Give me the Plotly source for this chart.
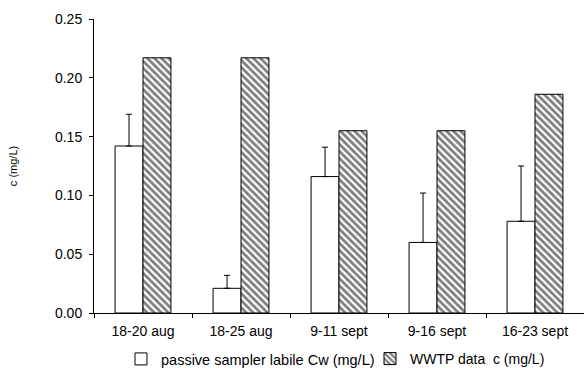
import plotly.graph_objects as go

categories = ["18-20 aug", "18-25 aug", "9-11 sept", "9-16 sept", "16-23 sept"]
passive = [0.142, 0.021, 0.116, 0.060, 0.078]
passive_err = [0.027, 0.011, 0.025, 0.042, 0.047]
wwtp = [0.217, 0.217, 0.155, 0.155, 0.186]
yticks = [0.00, 0.05, 0.10, 0.15, 0.20, 0.25]

fig = go.Figure()
fig.add_trace(go.Bar(
    x=categories, y=passive, name="passive sampler labile Cw (mg/L)",
    marker=dict(color="white", line=dict(color="black", width=1)),
    error_y=dict(type="data", array=passive_err, arrayminus=[0]*len(passive_err),
                 symmetric=False, color="black", thickness=1, width=3),
    legend="legend",
))
fig.add_trace(go.Bar(
    x=categories, y=wwtp, name="WWTP data  c (mg/L)",
    marker=dict(color="white", line=dict(color="black", width=1),
                pattern=dict(shape="\\", fgcolor="black", bgcolor="white",
                             size=5, solidity=0.55)),
    legend="legend2",
))

leg_common = dict(orientation="h", xref="container", yref="container",
                  xanchor="left", yanchor="middle", y=(368-359)/368,
                  itemwidth=30, bgcolor="rgba(0,0,0,0)")

fig.update_layout(
    width=584, height=368,
    margin=dict(l=94, r=0, t=19, b=55, autoexpand=False),
    paper_bgcolor="white", plot_bgcolor="white",
    barmode="group", bargap=0.43, bargroupgap=0,
    font=dict(family="Liberation Sans, Arial, sans-serif", size=14, color="black"),
    showlegend=True,
    legend=dict(leg_common, x=121/584, font=dict(size=14.5, color="black")),
    legend2=dict(leg_common, x=370/584, font=dict(size=14, color="black")),
)
fig.update_xaxes(
    showline=True, linecolor="black", linewidth=1,
    ticks="outside", tickson="boundaries", ticklen=4, tickcolor="black",
    showgrid=False, range=[-0.5, 4.5], ticklabelstandoff=5,
    tickfont=dict(size=14, color="black"),
)
fig.update_yaxes(
    title=dict(text="c (mg/L)", standoff=35, font=dict(size=11, color="black")),
    showline=True, linecolor="black", linewidth=1,
    ticks="outside", ticklen=4, tickcolor="black",
    tickvals=yticks, tickformat=".2f", ticklabelstandoff=4,
    tickfont=dict(size=14, color="black"),
    range=[0, 0.25], showgrid=False, zeroline=False,
)

fig.write_html("out.html")
